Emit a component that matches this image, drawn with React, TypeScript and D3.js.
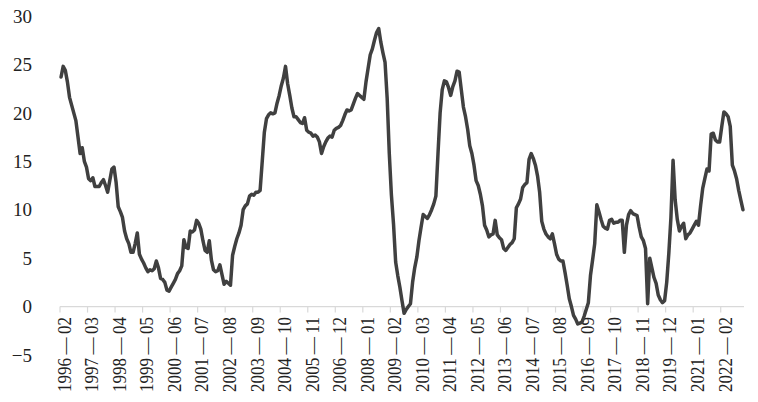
import React, { useEffect, useRef } from "react";
import * as d3 from "d3";

// monthly values, 1996-02 .. 2022-12
const values: number[] = [
  23.7, 24.8, 24.4, 23.2, 21.6, 20.8, 20.0, 19.2, 17.5, 15.8, 16.4, 15.0,
  14.4, 13.2, 13.0, 13.3, 12.4, 12.4, 12.4, 12.8, 13.1, 12.5, 11.8, 13.0,
  14.2, 14.4, 12.8, 10.3, 9.8, 9.2, 7.8, 7.0, 6.5, 5.6, 5.6, 6.5,
  7.6, 5.4, 4.9, 4.5, 4.0, 3.6, 3.8, 3.7, 3.9, 4.7, 4.0, 2.9,
  2.8, 2.5, 1.7, 1.6, 2.0, 2.4, 2.8, 3.4, 3.7, 4.2, 6.9, 6.1,
  6.0, 7.8, 7.7, 7.9, 8.9, 8.6, 8.0, 6.8, 5.8, 5.6, 6.8, 4.8,
  3.8, 3.6, 3.7, 4.3, 3.3, 2.3, 2.6, 2.4, 2.2, 5.3, 6.2, 7.0,
  7.6, 8.4, 10.0, 10.4, 10.6, 11.4, 11.6, 11.5, 11.8, 11.8, 12.0, 15.0,
  18.0, 19.4, 19.8, 20.0, 19.9, 20.0, 21.0, 21.8, 22.8, 23.6, 24.8, 23.0,
  21.8, 20.5, 19.6, 19.6, 19.3, 19.0, 18.9, 19.5, 18.2, 18.0, 17.9, 17.6,
  17.7, 17.5, 17.0, 15.8, 16.5, 17.0, 17.4, 17.6, 17.5, 18.2, 18.4, 18.5,
  18.7, 19.2, 19.8, 20.3, 20.2, 20.3, 20.9, 21.5, 22.0, 21.8, 21.6, 21.4,
  23.2, 24.6, 26.0, 26.6, 27.5, 28.3, 28.7, 27.3, 26.2, 25.2, 21.5, 15.8,
  11.5, 8.5, 4.6, 3.2, 2.0, 0.6, -0.7, -0.3, 0.0, 0.3, 2.5, 4.0,
  5.1, 6.8, 8.2, 9.5, 9.3, 9.1, 9.5, 10.0, 10.6, 11.4, 15.8, 20.0,
  22.4, 23.3, 23.2, 22.6, 21.8, 22.7, 23.3, 24.3, 24.2, 22.4, 20.6, 19.6,
  18.3, 16.6, 15.8, 14.6, 13.0, 12.5, 11.6, 10.4, 8.4, 7.9, 7.2, 7.4,
  7.5, 8.9, 7.4, 7.1, 6.9, 6.0, 5.8, 6.1, 6.4, 6.6, 7.0, 10.2,
  10.6, 11.1, 12.3, 12.6, 12.8, 15.2, 15.8, 15.3, 14.6, 13.5, 11.8, 8.8,
  8.0, 7.5, 7.2, 7.0, 7.5, 6.5, 5.4, 4.9, 4.7, 4.7, 3.5, 2.2,
  0.8, 0.0, -0.9, -1.3, -1.8, -1.7, -1.6, -1.0, -0.3, 0.4, 3.2, 4.8,
  6.5, 10.5, 9.8, 9.0, 8.3, 8.1, 8.0, 8.9, 9.0, 8.6, 8.7, 8.7,
  8.9, 8.9, 5.6, 8.4, 9.5, 9.9, 9.6, 9.5, 9.4, 8.2, 7.2, 6.8,
  6.0, 0.3, 5.0, 4.0, 3.0, 2.4, 1.2, 0.7, 0.4, 0.6, 2.5, 5.5,
  9.2, 15.1, 11.0, 9.0, 7.8, 8.3, 8.6, 7.0, 7.4, 7.6, 8.0, 8.4,
  8.8, 8.4, 10.4, 12.2, 13.2, 14.2, 14.0, 17.8, 17.9, 17.2, 17.0, 17.0,
  18.6, 20.1, 19.9, 19.6, 18.6, 14.6, 14.0, 13.2, 12.0, 11.0, 10.0,
];

// x labels, one every 13 months
const tickLabels: string[] = [
  "1996-02", "1997-03", "1998-04", "1999-05", "2000-06", "2001-07", "2002-08",
  "2003-09", "2004-10", "2005-11", "2006-12", "2008-01", "2009-02", "2010-03",
  "2011-04", "2012-05", "2013-06", "2014-07", "2015-08", "2016-09", "2017-10",
  "2018-11", "2019-12", "2021-01", "2022-02",
];
const labelStep = 13;

const yTicks: number[] = [-5, 0, 5, 10, 15, 20, 25, 30];

const W = 758, H = 402;

export default function App() {
  const ref = useRef<SVGSVGElement>(null);

  useEffect(() => {
    const svg = d3.select(ref.current);
    svg.selectAll("*").remove();

    const x = d3
      .scaleBand<number>()
      .domain(values.map((_, i) => i))
      .range([60, 744]);
    const y = d3.scaleLinear().domain([-5, 30]).range([355, 16]);
    const bw = x.bandwidth();

    // y labels (no axis line)
    svg
      .append("g")
      .selectAll("text")
      .data(yTicks)
      .join("text")
      .attr("x", 32)
      .attr("y", (d) => y(d))
      .attr("dy", "0.35em")
      .attr("text-anchor", "end")
      .attr("font-family", "'Liberation Serif', serif")
      .attr("font-size", 19)
      .attr("fill", "#222")
      .text((d) => (d < 0 ? "\u2212" + Math.abs(d) : String(d)));

    // category axis at zero
    const ax = svg.append("g");
    ax.append("line")
      .attr("x1", 60)
      .attr("x2", 744)
      .attr("y1", y(0))
      .attr("y2", y(0))
      .attr("stroke", "#d9d9d9")
      .attr("stroke-width", 1.2);

    ax.selectAll(".tick")
      .data(tickLabels)
      .join("line")
      .attr("class", "tick")
      .attr("x1", (_, k) => x(k * labelStep)!)
      .attr("x2", (_, k) => x(k * labelStep)!)
      .attr("y1", y(0))
      .attr("y2", y(0) + 6)
      .attr("stroke", "#d9d9d9")
      .attr("stroke-width", 1.2);

    ax.selectAll(".lbl")
      .data(tickLabels)
      .join("text")
      .attr("class", "lbl")
      .attr("transform", (_, k) => `translate(${x(k * labelStep)! + 4.5},317) rotate(-90)`)
      .attr("dy", "0.35em")
      .attr("text-anchor", "end")
      .attr("font-family", "'Liberation Serif', serif")
      .attr("font-size", 18)
      .attr("textLength", 75)
      .attr("lengthAdjust", "spacingAndGlyphs")
      .attr("fill", "#222")
      .text((d) => d.replace("-", "\u2009\u2014\u2009"));

    // the series
    const line = d3
      .line<number>()
      .x((_, i) => x(i)! + bw / 2)
      .y((d) => y(d));

    svg
      .append("path")
      .datum(values)
      .attr("d", line)
      .attr("fill", "none")
      .attr("stroke", "#404040")
      .attr("stroke-width", 3.5)
      .attr("stroke-linejoin", "round")
      .attr("stroke-linecap", "round");
  }, []);

  return (
    <svg
      ref={ref}
      width={W}
      height={H}
      style={{ position: "absolute", left: 0, top: 0, background: "#fff" }}
    />
  );
}
